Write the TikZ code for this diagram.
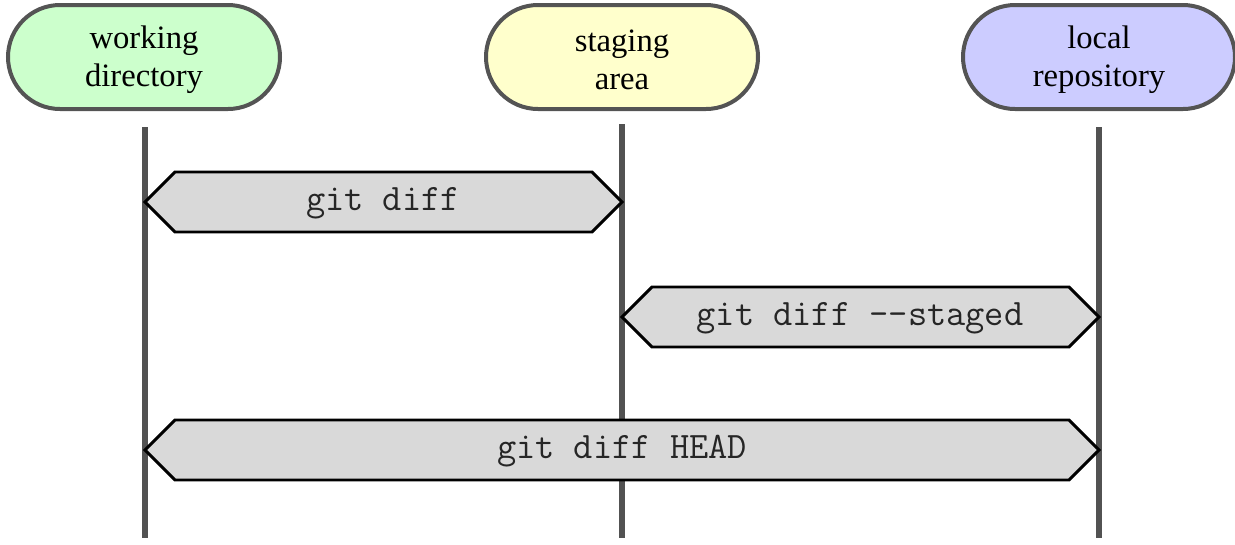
\documentclass[tikz,border=0pt]{standalone}
\usepackage{fontspec}
\setmainfont{Liberation Serif}
\begin{document}
\begin{tikzpicture}[x=0.75pt,y=-0.75pt,
  place/.style={draw=black!67,line width=3pt,rounded corners=39pt,minimum width=204pt,minimum height=78pt,
    align=center,font=\fontsize{24.5}{28.5}\selectfont,inner sep=0pt},
  life/.style={draw=black!68,line width=4.5pt},
  cmd/.style={draw=black,line width=2.2pt,fill=black!15,line join=miter},
  cmdtext/.style={font=\ttfamily\fontsize{28}{30}\selectfont,text=black!85}]
\useasboundingbox (0,0) rectangle (1235,544);
\node[place,fill={rgb,255:red,204;green,255;blue,204}] (wd) at (144,57) {};
\node[font=\fontsize{24.5}{28.5}\selectfont,align=center] (wdl) at (144,60) {working\\directory};
\node[place,fill={rgb,255:red,255;green,255;blue,204}] (sa) at (622,57) {};
\node[font=\fontsize{24.5}{28.5}\selectfont,align=center] (sal) at (622,60) {staging\\area};
\node[place,fill={rgb,255:red,204;green,204;blue,255}] (lr) at (1099,57) {};
\node[font=\fontsize{24.5}{28.5}\selectfont,align=center] (lrl) at (1099,60) {local\\repository};
\coordinate (wdt) at (145,127); \coordinate (wdb) at (145,538);
\coordinate (sat) at (622,124); \coordinate (sab) at (622,538);
\coordinate (lrt) at (1099,127); \coordinate (lrb) at (1099,538);
\draw[life] (wdt) -- (wdb);
\draw[life] (sat) -- (sab);
\draw[life] (lrt) -- (lrb);
% git diff
\draw[cmd] (145,202) -- (175,172) -- (592,172) -- (622,202) -- (592,232) -- (175,232) -- cycle;
\node[cmdtext] (d1) at (383,203) {git diff};
% staged
\draw[cmd] (622,317) -- (652,287) -- (1069,287) -- (1099,317) -- (1069,347) -- (652,347) -- cycle;
\node[cmdtext] (d2) at (860,318) {git diff -{}-staged};
% HEAD
\draw[cmd] (145,450) -- (175,420) -- (1069,420) -- (1099,450) -- (1069,480) -- (175,480) -- cycle;
\node[cmdtext] (d3) at (622,451) {git diff HEAD};
\end{tikzpicture}
\end{document}
